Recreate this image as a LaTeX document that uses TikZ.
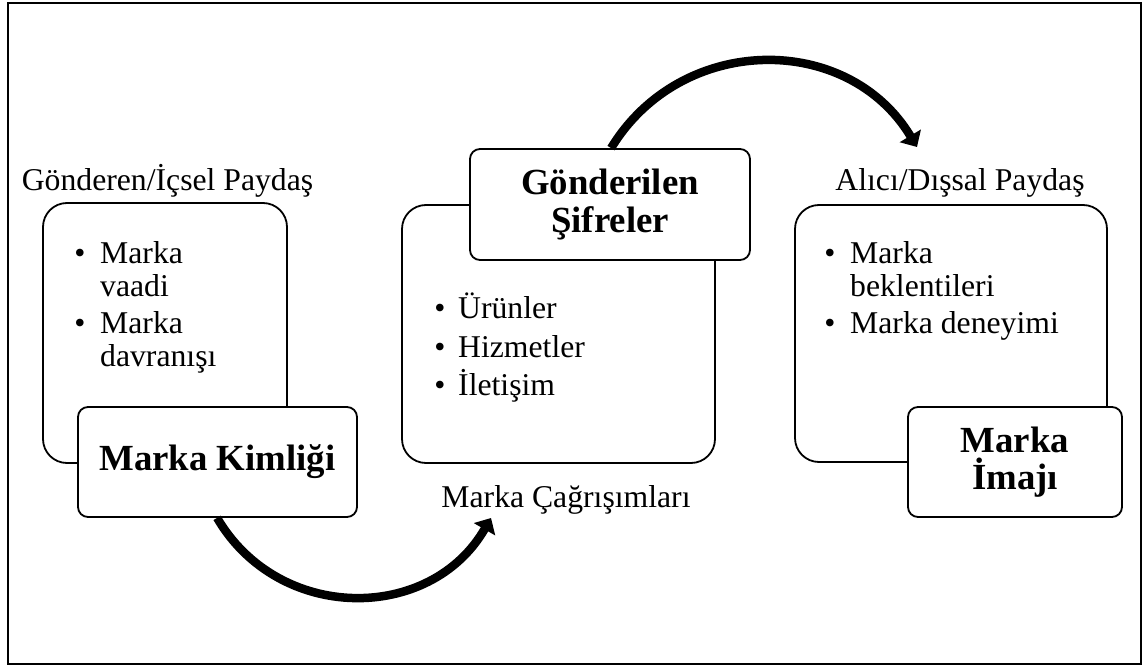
\documentclass[tikz,border=0pt]{standalone}
\usepackage{fontspec}
\setmainfont{Liberation Serif}
\usetikzlibrary{arrows.meta}
\begin{document}
\begin{tikzpicture}[x=1pt,y=-1pt,
  bigbox/.style={draw, line width=1.8pt, rounded corners=24pt, fill=white, inner sep=0pt},
  titlebox/.style={draw, line width=1.8pt, rounded corners=10pt, fill=white, inner sep=0pt, align=center, font=\fontsize{36.8}{37.5}\selectfont\bfseries},
  txt/.style={anchor=base west, inner sep=0pt, font=\fontsize{31.7}{33}\selectfont},
  lbl/.style={anchor=base, inner sep=0pt, font=\fontsize{31.7}{33}\selectfont},
  bul/.style={anchor=base, inner sep=0pt, font=\fontsize{31.7}{33}\selectfont},
  flow/.style={line width=8.5pt, -{Triangle[length=13pt,width=24pt]}}
]
\useasboundingbox (0,0) rectangle (1144,666);
\draw[line width=2pt] (8,3) rectangle (1141,664);

% big boxes
\node[bigbox, minimum width=244pt, minimum height=260pt] (lb) at (165,333) {};
\node[bigbox, minimum width=313pt, minimum height=258pt] (mb) at (558.5,334) {};
\node[bigbox, minimum width=312pt, minimum height=257pt] (rb) at (951,333.5) {};

% title boxes
\node[titlebox, minimum width=279pt, minimum height=110pt] (kim) at (217.5,462) {Marka Kimliği};
\node[titlebox, minimum width=280pt, minimum height=111pt] (sif) at (610,204.5) {Gönderilen\\Şifreler};
\node[titlebox, minimum width=214pt, minimum height=110pt] (img) at (1015,462) {Marka\\İmajı};

% labels
\node[lbl] (lgon) at (167.5,190) {Gönderen/İçsel Paydaş};
\node[lbl] (lali) at (960,190) {Alıcı/Dışsal Paydaş};
\node[lbl] (lcag) at (566,507) {Marka Çağrışımları};

% left list
\node[bul] (lb1) at (80,263) {\textbullet};
\node[txt] (lt1) at (100,263) {Marka};
\node[txt] (lt1b) at (100,296) {vaadi};
\node[bul] (lb2) at (80,333) {\textbullet};
\node[txt] (lt2) at (100,333) {Marka};
\node[txt] (lt2b) at (100,366) {davranışı};

% middle list
\node[bul] (mb1) at (440,318) {\textbullet};
\node[txt] (mt1) at (458,318) {Ürünler};
\node[bul] (mb2) at (440,357) {\textbullet};
\node[txt] (mt2) at (458,357) {Hizmetler};
\node[bul] (mb3) at (440,395) {\textbullet};
\node[txt] (mt3) at (458,395) {İletişim};

% right list
\node[bul] (rb1) at (830,263) {\textbullet};
\node[txt] (rt1) at (850,263) {Marka};
\node[txt] (rt1b) at (850,296) {beklentileri};
\node[bul] (rb2) at (830,333) {\textbullet};
\node[txt] (rt2) at (850,333) {Marka deneyimi};

% arrows
\coordinate (a1e) at (491,518);
\coordinate (a2e) at (917,147);
\draw[flow] ([xshift=140pt]kim.south west) .. controls (278.5,623) and (430.5,623) .. (a1e);
\draw[flow] ([xshift=142pt]sif.north west) .. controls (681,33) and (848,32) .. (a2e);
\end{tikzpicture}
\end{document}
